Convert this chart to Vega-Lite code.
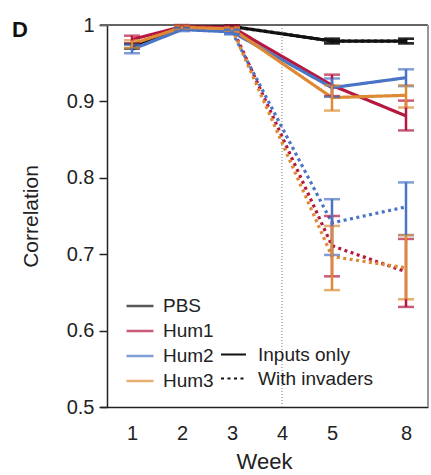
{
  "$schema": "https://vega.github.io/schema/vega-lite/v6.json",
  "autosize": {"type": "none"},
  "padding": {"left": 100, "top": 25, "right": 3, "bottom": 68},
  "width": 328,
  "height": 382,
  "title": {"text": "D", "anchor": "start", "frame": "group", "fontSize": 22, "fontWeight": "bold", "font": "Liberation Sans", "dx": -88, "dy": 5, "baseline": "middle", "offset": -32, "color": "#111"},
  "config": {"font": "Liberation Sans", "view": {"stroke": null}},
  "data": {"values": [
    {"group": "PBS", "type": "Inputs only", "week": 1, "value": 0.972, "lo": 0.969, "hi": 0.975},
    {"group": "PBS", "type": "Inputs only", "week": 2, "value": 0.998, "lo": 0.997, "hi": 0.999},
    {"group": "PBS", "type": "Inputs only", "week": 3, "value": 0.998, "lo": 0.997, "hi": 0.999},
    {"group": "PBS", "type": "Inputs only", "week": 5, "value": 0.979, "lo": 0.976, "hi": 0.982},
    {"group": "PBS", "type": "Inputs only", "week": 8, "value": 0.979, "lo": 0.976, "hi": 0.982},
    {"group": "Hum1", "type": "Inputs only", "week": 1, "value": 0.981, "lo": 0.976, "hi": 0.986},
    {"group": "Hum1", "type": "Inputs only", "week": 2, "value": 0.998, "lo": 0.996, "hi": 1.0},
    {"group": "Hum1", "type": "Inputs only", "week": 3, "value": 0.997, "lo": 0.995, "hi": 0.999},
    {"group": "Hum1", "type": "Inputs only", "week": 5, "value": 0.921, "lo": 0.907, "hi": 0.935},
    {"group": "Hum1", "type": "Inputs only", "week": 8, "value": 0.881, "lo": 0.862, "hi": 0.901},
    {"group": "Hum2", "type": "Inputs only", "week": 1, "value": 0.968, "lo": 0.963, "hi": 0.974},
    {"group": "Hum2", "type": "Inputs only", "week": 2, "value": 0.994, "lo": 0.992, "hi": 0.996},
    {"group": "Hum2", "type": "Inputs only", "week": 3, "value": 0.991, "lo": 0.988, "hi": 0.994},
    {"group": "Hum2", "type": "Inputs only", "week": 5, "value": 0.918, "lo": 0.906, "hi": 0.930},
    {"group": "Hum2", "type": "Inputs only", "week": 8, "value": 0.931, "lo": 0.920, "hi": 0.942},
    {"group": "Hum3", "type": "Inputs only", "week": 1, "value": 0.975, "lo": 0.970, "hi": 0.980},
    {"group": "Hum3", "type": "Inputs only", "week": 2, "value": 0.997, "lo": 0.995, "hi": 0.999},
    {"group": "Hum3", "type": "Inputs only", "week": 3, "value": 0.995, "lo": 0.993, "hi": 0.997},
    {"group": "Hum3", "type": "Inputs only", "week": 5, "value": 0.905, "lo": 0.888, "hi": 0.921},
    {"group": "Hum3", "type": "Inputs only", "week": 8, "value": 0.908, "lo": 0.892, "hi": 0.921},
    {"group": "PBS", "type": "With invaders", "week": 3, "value": 0.998, "lo": 0.997, "hi": 0.999},
    {"group": "PBS", "type": "With invaders", "week": 5, "value": 0.979, "lo": 0.976, "hi": 0.982},
    {"group": "PBS", "type": "With invaders", "week": 8, "value": 0.979, "lo": 0.976, "hi": 0.982},
    {"group": "Hum1", "type": "With invaders", "week": 3, "value": 0.997, "lo": 0.995, "hi": 0.999},
    {"group": "Hum1", "type": "With invaders", "week": 5, "value": 0.711, "lo": 0.671, "hi": 0.750},
    {"group": "Hum1", "type": "With invaders", "week": 8, "value": 0.677, "lo": 0.631, "hi": 0.720},
    {"group": "Hum2", "type": "With invaders", "week": 3, "value": 0.991, "lo": 0.988, "hi": 0.994},
    {"group": "Hum2", "type": "With invaders", "week": 5, "value": 0.741, "lo": 0.699, "hi": 0.772},
    {"group": "Hum2", "type": "With invaders", "week": 8, "value": 0.762, "lo": 0.725, "hi": 0.794},
    {"group": "Hum3", "type": "With invaders", "week": 3, "value": 0.995, "lo": 0.993, "hi": 0.997},
    {"group": "Hum3", "type": "With invaders", "week": 5, "value": 0.697, "lo": 0.653, "hi": 0.737},
    {"group": "Hum3", "type": "With invaders", "week": 8, "value": 0.682, "lo": 0.641, "hi": 0.725}
  ]},
  "encoding": {
    "x": {"field": "week", "type": "quantitative",
      "scale": {"domain": [0.36, 5, 8, 8.89], "range": [0, 232, 306, 328], "nice": false, "zero": false},
      "axis": {"values": [1, 2, 3, 4, 5, 8], "title": "Week", "grid": false, "ticks": false, "tickSize": 0,
        "labelFontSize": 20, "labelPadding": 16, "labelColor": "#222", "titleFontSize": 22, "titleFontWeight": "normal", "titleColor": "#222", "titlePadding": 8,
        "domainColor": "#222", "domainWidth": 1.5}},
    "y": {"type": "quantitative",
      "scale": {"domain": [0.5, 1], "nice": false, "zero": false},
      "axis": {"values": [0.5, 0.6, 0.7, 0.8, 0.9, 1], "format": "~g", "title": "Correlation", "grid": false, "offset": -7,
        "tickSize": 8, "tickColor": "#222", "tickWidth": 1.5, "labelFontSize": 20, "labelPadding": 5, "labelColor": "#222",
        "titleFontSize": 21, "titleFontWeight": "normal", "titleColor": "#222", "titlePadding": 25,
        "domainColor": "#222", "domainWidth": 1.5}}
  },
  "layer": [
    {"mark": {"type": "rule", "color": "#bbbbbb", "strokeWidth": 1, "strokeDash": [1, 2]},
     "encoding": {"x": {"datum": 4}, "y": null}},
    {"mark": {"type": "rule", "color": "#666666", "strokeWidth": 1.5},
     "encoding": {"y": {"datum": 1}, "x": null}},
    {"mark": {"type": "rule", "color": "#999999", "strokeWidth": 1.5},
     "encoding": {"x": {"datum": 8.89}, "y": null}},
    {"mark": {"type": "line", "strokeWidth": 3.2, "strokeCap": "butt"},
     "encoding": {
       "y": {"field": "value", "type": "quantitative"},
       "color": {"field": "group", "type": "nominal",
         "scale": {"domain": ["PBS", "Hum1", "Hum2", "Hum3"], "range": ["#111111", "#b5173f", "#4a74c6", "#de8a34"]},
         "legend": {"orient": "none", "legendX": 25, "legendY": 266, "title": null, "symbolType": "stroke", "symbolSize": 729,
           "symbolStrokeWidth": 2.5, "labelFontSize": 19, "labelColor": "#222", "labelOffset": 8, "rowPadding": 0, "padding": 0}},
       "strokeDash": {"field": "type", "type": "nominal",
         "scale": {"domain": ["Inputs only", "With invaders"], "range": [[1, 0], [3, 3.5]]},
         "legend": {"orient": "none", "legendX": 120, "legendY": 316, "title": null, "symbolType": "stroke", "symbolSize": 625,
           "symbolStrokeWidth": 2, "symbolStrokeColor": "#111111", "labelFontSize": 19, "labelColor": "#222", "labelOffset": 11, "rowPadding": 0, "padding": 0}}
     }},
    {"mark": {"type": "errorbar", "ticks": {"size": 16}, "thickness": 2.5},
     "encoding": {
       "y": {"field": "lo", "type": "quantitative"},
       "y2": {"field": "hi"},
       "color": {"field": "group", "type": "nominal"}
     }}
  ]
}
